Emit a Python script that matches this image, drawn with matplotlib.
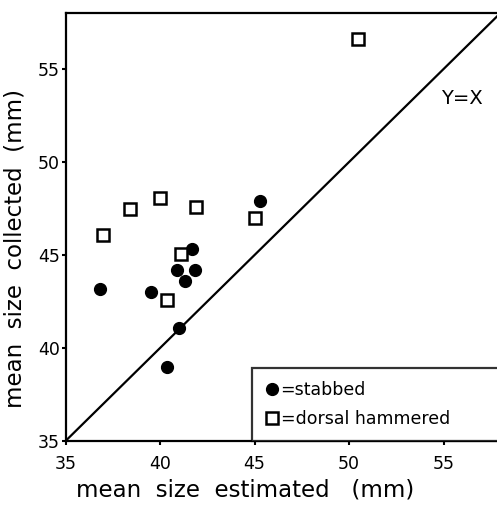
import matplotlib
matplotlib.use('Agg')
import matplotlib.pyplot as plt

# stabbed (filled circles)
stab_est = [45.3, 41.7, 40.9, 41.85, 41.3, 36.8, 39.5, 41.0, 40.35]
stab_col = [47.9, 45.3, 44.2, 44.2, 43.6, 43.2, 43.0, 41.1, 39.0]

# dorsal hammered (open squares)
ham_est = [37.0, 38.4, 40.0, 41.9, 45.0, 41.1, 40.35, 50.5]
ham_col = [46.1, 47.5, 48.05, 47.6, 47.0, 45.05, 42.6, 56.6]

ticks = [35, 40, 45, 50, 55]

plt.rcParams['font.family'] = ['DejaVu Sans']

fig = plt.figure(figsize=(4.97, 5.05), dpi=100)
ax = fig.add_axes([0.1318, 0.1267, 0.8682, 0.847])

# identity line
ax.plot([35, 60], [35, 60], color='black', lw=1.6, zorder=1)

ax.plot(stab_est, stab_col, 'o', color='black', markersize=8.5,
        label='=stabbed', zorder=3)
ax.plot(ham_est, ham_col, 's', markerfacecolor='white', markeredgecolor='black',
        markeredgewidth=1.8, markersize=8, label='=dorsal hammered', zorder=3)

ax.text(55.95, 53.4, 'Y=X', fontsize=14, ha='center', va='center')

ax.set_xlim(35, 57.83)
ax.set_ylim(35, 58)
ax.set_xticks(ticks)
ax.set_yticks(ticks)
ax.tick_params(direction='out', length=3, width=1.5, labelsize=12.5)
ax.tick_params(axis='x', pad=7)
ax.tick_params(axis='y', pad=1)

for s in ['left', 'bottom', 'top']:
    ax.spines[s].set_linewidth(1.6)
ax.spines['right'].set_visible(False)

ax.set_xlabel('mean  size  estimated   (mm)', fontsize=16.5)
ax.set_ylabel('mean  size  collected  (mm)', fontsize=16.5)
ax.xaxis.set_label_coords(0.416, -0.087)
ax.yaxis.set_label_coords(-0.09, 0.451)

leg = ax.legend(loc='lower left', bbox_to_anchor=(0.432, 0.0, 0.6, 0.174),
                mode='expand', borderaxespad=0, frameon=True, fancybox=False,
                handlelength=0.8, handletextpad=0.1, fontsize=12.5,
                labelspacing=0.65, borderpad=0.75)
leg.get_frame().set_edgecolor('black')
leg.get_frame().set_linewidth(1.6)

fig.savefig('out.png', dpi=100)
